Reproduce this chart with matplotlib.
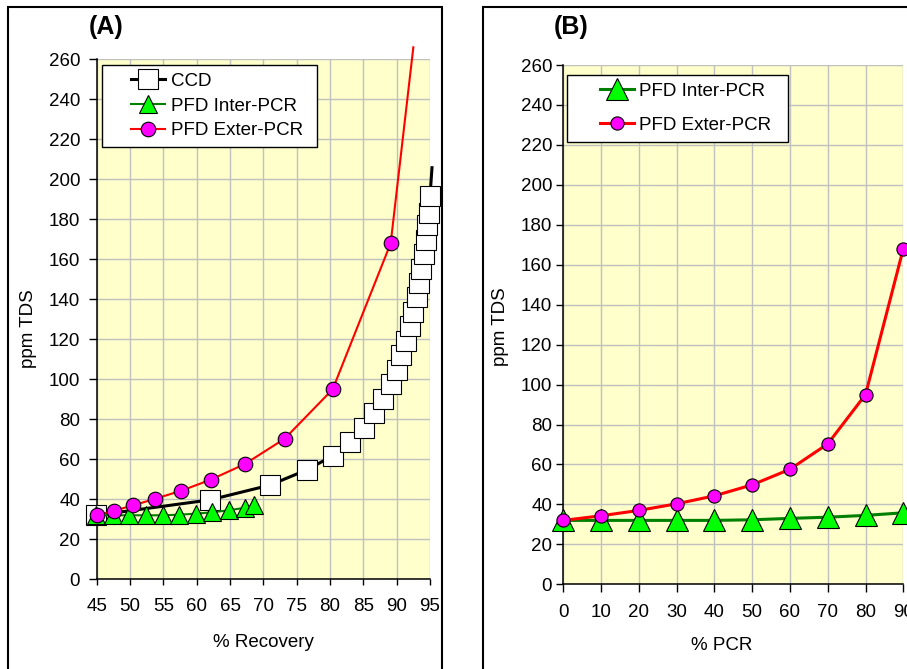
import matplotlib
matplotlib.use("Agg")
import matplotlib.pyplot as plt
from matplotlib.patches import Rectangle
from matplotlib.legend_handler import HandlerLine2D

plt.rcParams['font.family'] = ['Liberation Sans', 'DejaVu Sans']

# ---------------- data ----------------
# Panel A: TDS vs % recovery
ccd_recovery = [44.9, 62.0, 71.0, 76.5, 80.4, 83.0, 85.1, 86.6, 87.9, 89.1, 90.0,
                90.7, 91.4, 92.0, 92.5, 93.0, 93.3, 93.7, 94.1, 94.4, 94.6, 94.8,
                95.0, 95.3]
ccd_tds = [32.0, 39.7, 47.1, 54.7, 61.7, 68.4, 75.8, 83.3, 90.3, 97.6, 104.8,
           112.2, 119.2, 126.5, 133.7, 141.0, 148.2, 155.2, 162.4, 169.6, 176.9,
           182.9, 191.6, 205.8]

inter_recovery = [44.9, 47.5, 49.9, 52.4, 54.9, 57.3, 59.9, 62.3, 64.8, 67.3, 68.6]
inter_tds_a = [32.0, 32.0, 32.0, 32.0, 32.0, 32.3, 32.8, 33.5, 34.5, 35.8, 37.0]

exter_recovery = [45.0, 47.6, 50.5, 53.8, 57.7, 62.1, 67.2, 73.2, 80.4, 89.1, 92.5]
exter_tds_a = [32.0, 34.3, 37.0, 40.3, 44.3, 49.8, 57.6, 70.3, 95.0, 168.0, 266.0]

# Panel B: TDS vs % PCR
pcr = [0, 10, 20, 30, 40, 50, 60, 70, 80, 90]
inter_tds_b = [32.0, 32.0, 32.0, 32.0, 32.0, 32.3, 33.0, 33.6, 34.5, 35.8]
exter_tds_b = [32.0, 34.3, 37.0, 40.3, 44.3, 49.8, 57.6, 70.3, 95.0, 168.0]

xticks_a = list(range(45, 96, 5))
xticks_b = list(range(0, 91, 10))
yticks = list(range(0, 261, 20))

# ---------------- styling ----------------
BG = '#FFFFCC'
GRID = '#C0C0C0'
FS = 13.5

fig = plt.figure(figsize=(9.07, 6.69), dpi=100)
W, H = 907.0, 669.0


def px_axes(x0, x1, ytop, ybot):
    return fig.add_axes([x0 / W, 1 - ybot / H, (x1 - x0) / W, (ybot - ytop) / H])


axA = px_axes(96.7, 430.0, 59.3, 579.3)
axB = px_axes(563.3, 903.3, 65.0, 584.3)

# panel frames
fig.add_artist(Rectangle((8 / W, -0.05), (442 - 8) / W, 1 - 7 / H + 0.05,
                         transform=fig.transFigure, fill=False, ec='black', lw=1.5))
fig.add_artist(Rectangle((482.7 / W, -0.05), 0.6, 1 - 7 / H + 0.05,
                         transform=fig.transFigure, fill=False, ec='black', lw=1.5))

fig.text(106 / W, 1 - 26.7 / H, '(A)', ha='center', va='center',
         fontsize=18, fontweight='bold')
fig.text(571 / W, 1 - 26.7 / H, '(B)', ha='center', va='center',
         fontsize=18, fontweight='bold')


def style_axes(ax, xlim, xticks, ylen, ypad, xlen, xpad):
    ax.set_facecolor(BG)
    ax.set_xlim(*xlim)
    ax.set_ylim(0, 260)
    ax.set_xticks(xticks)
    ax.set_yticks(yticks)
    ax.grid(True, color=GRID, lw=1.0)
    ax.set_axisbelow(True)
    for s in ('top', 'right'):
        ax.spines[s].set_visible(False)
    for s in ('left', 'bottom'):
        ax.spines[s].set_color('black')
        ax.spines[s].set_linewidth(1.1)
    ax.tick_params(axis='y', direction='out', length=ylen, pad=ypad, width=1,
                   labelsize=FS, colors='black')
    ax.tick_params(axis='x', direction='out', length=xlen, pad=xpad, width=1,
                   labelsize=FS, colors='black')


style_axes(axA, (45, 95), xticks_a, 5.5, 6.5, 4.2, 9.5)
style_axes(axB, (0, 90), xticks_b, 4.8, 3.3, 5.8, 8.5)

# ---------------- panel A ----------------
axA.plot(ccd_recovery, ccd_tds, color='black', lw=2.2, marker='s', ms=15,
         mfc='white', mec='black', mew=0.8, markevery=list(range(len(ccd_tds) - 1)),
         clip_on=False, label='CCD', zorder=3)
axA.plot(inter_recovery, inter_tds_a, color='#008000', lw=1.5, marker='^', ms=13,
         mfc='#00FF00', mec='black', mew=0.8, clip_on=False,
         label='PFD Inter-PCR', zorder=4)
axA.plot(exter_recovery, exter_tds_a, color='#FF0000', lw=1.5, marker='o', ms=10.5,
         mfc='#FF00FF', mec='black', mew=0.8,
         markevery=list(range(len(exter_tds_a) - 1)), clip_on=False,
         label='PFD Exter-PCR', zorder=5)

axA.set_xlabel('% Recovery', fontsize=FS)
axA.set_ylabel('ppm TDS', fontsize=FS)
axA.xaxis.label.set_va('center')
axA.yaxis.label.set_va('center')
axA.xaxis.set_label_coords(0.501, -0.1225)
axA.yaxis.set_label_coords(-0.206, 0.483)

# ---------------- panel B ----------------
axB.plot(pcr, inter_tds_b, color='#008000', lw=2.2, marker='^', ms=16.5,
         mfc='#00FF00', mec='black', mew=0.8, clip_on=False,
         label='PFD Inter-PCR', zorder=4)
axB.plot(pcr, exter_tds_b, color='#FF0000', lw=2.2, marker='o', ms=9.5,
         mfc='#FF00FF', mec='black', mew=0.8, clip_on=False,
         label='PFD Exter-PCR', zorder=5)

axB.set_xlabel('% PCR', fontsize=FS)
axB.set_ylabel('ppm TDS', fontsize=FS)
axB.xaxis.label.set_va('center')
axB.yaxis.label.set_va('center')
axB.xaxis.set_label_coords(0.466, -0.117)
axB.yaxis.set_label_coords(-0.186, 0.497)

# ---------------- legends ----------------
fs_px = FS * 100 / 72.0


def make_legend(ax, bbox, handle_off_px, handle_len_px, spacing, bpad):
    xpad = handle_off_px / fs_px
    hmap = {h: HandlerLine2D(xpad=xpad) for h in ax.get_lines()}
    leg = ax.legend(loc='upper left', bbox_to_anchor=bbox, mode='expand',
                    borderaxespad=0, borderpad=bpad, fontsize=FS,
                    handlelength=(handle_off_px + handle_len_px) / fs_px,
                    handletextpad=0.3, labelspacing=spacing, fancybox=False,
                    framealpha=1, edgecolor='black', handler_map=hmap)
    leg.get_frame().set_linewidth(1.0)
    leg.set_zorder(10)
    return leg


make_legend(axA, (0.016, 0.835, 0.645, 0.154), 21, 34, 0.4, 0.42)
make_legend(axB, (0.010, 0.858, 0.652, 0.123), 25, 34, 0.9, 0.42)

fig.savefig('out.png', dpi=100)
